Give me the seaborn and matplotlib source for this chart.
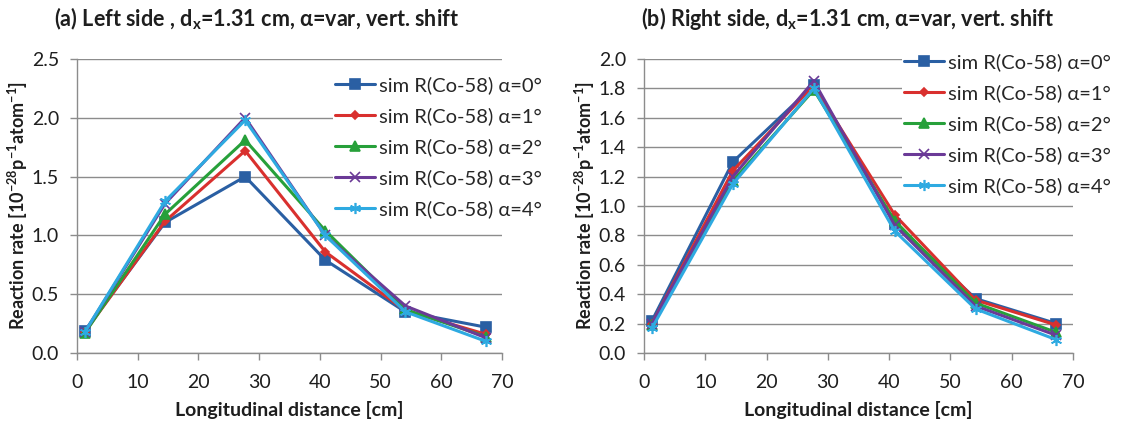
import numpy as np
import pandas as pd
import matplotlib
matplotlib.use("Agg")
import matplotlib.pyplot as plt
import seaborn as sns
from matplotlib.lines import Line2D

# ---- data ----
distance = [1.31, 14.5, 27.7, 40.9, 54.1, 67.3]
angles = ["α=0°", "α=1°", "α=2°", "α=3°", "α=4°"]
series_names = ["sim R(Co-58) " + a for a in angles]

left_a0 = [0.19, 1.11, 1.50, 0.79, 0.35, 0.22]
left_a1 = [0.18, 1.12, 1.72, 0.86, 0.36, 0.16]
left_a2 = [0.17, 1.18, 1.81, 1.04, 0.37, 0.14]
left_a3 = [0.18, 1.27, 2.00, 1.00, 0.40, 0.13]
left_a4 = [0.18, 1.29, 1.98, 1.00, 0.35, 0.10]

right_a0 = [0.22, 1.30, 1.82, 0.88, 0.37, 0.20]
right_a1 = [0.20, 1.24, 1.82, 0.94, 0.36, 0.19]
right_a2 = [0.19, 1.17, 1.79, 0.90, 0.34, 0.14]
right_a3 = [0.20, 1.20, 1.85, 0.87, 0.32, 0.12]
right_a4 = [0.17, 1.15, 1.80, 0.83, 0.30, 0.09]

left_series = [left_a0, left_a1, left_a2, left_a3, left_a4]
right_series = [right_a0, right_a1, right_a2, right_a3, right_a4]

x_ticks = [0, 10, 20, 30, 40, 50, 60, 70]
left_yticks = [0.0, 0.5, 1.0, 1.5, 2.0, 2.5]
right_yticks = [0.0, 0.2, 0.4, 0.6, 0.8, 1.0, 1.2, 1.4, 1.6, 1.8, 2.0]

titles = ["(a) Left side , d$_\\mathregular{x}$=1.31 cm, α=var, vert. shift",
          "(b) Right side, d$_\\mathregular{x}$=1.31 cm, α=var, vert. shift"]

# ---- styles ----
colors = ["#2A5FA3", "#D9302E", "#27A03A", "#6B3A97", "#2EAAE1"]
markers = ["s", "D", "^", "x", (6, 2, 0)]
msizes = [6.5, 4.5, 6.5, 7, 8]

sns.set_theme(style="white")
plt.rcParams['font.family'] = ['Lato', 'DejaVu Sans']
plt.rcParams['mathtext.fontset'] = 'custom'
plt.rcParams['mathtext.rm'] = 'Lato'
plt.rcParams['mathtext.bf'] = 'Lato:bold'

def make_df(series):
    rows = []
    for name, vals in zip(series_names, series):
        for x, y in zip(distance, vals):
            rows.append({"distance": x, "rate": y, "series": name})
    return pd.DataFrame(rows)

fig = plt.figure(figsize=(11.38, 4.28), dpi=100)
W, H = 1138, 428
axL = fig.add_axes([77 / W, 1 - 353 / H, 425 / W, 294 / H])
axR = fig.add_axes([644 / W, 1 - 353 / H, 429 / W, 294 / H])

grid_col = "#8C8C8C"
txt_col = "#1E1E1E"
for ax, series, yticks, ymax, title, tx, legpos in [
        (axL, left_series, left_yticks, 2.5, titles[0], 257, (333, 74)),
        (axR, right_series, right_yticks, 2.0, titles[1], 848, (902, 51))]:
    df = make_df(series)
    for i, name in enumerate(series_names):
        sub = df[df["series"] == name]
        sns.lineplot(data=sub, x="distance", y="rate", ax=ax, color=colors[i],
                     marker=markers[i], markersize=msizes[i], linewidth=2.2,
                     markeredgecolor=colors[i], markeredgewidth=1.2,
                     label=name, legend=False, zorder=3 + i)
    ax.set_xlim(0, 70)
    ax.set_ylim(0, ymax)
    ax.set_xticks(x_ticks)
    ax.set_yticks(yticks)
    ax.set_yticklabels([f"{v:.1f}" for v in yticks])
    ax.yaxis.grid(True, color=grid_col, linewidth=1.0)
    ax.xaxis.grid(False)
    for s in ["top", "right"]:
        ax.spines[s].set_visible(False)
    for s in ["left", "bottom"]:
        ax.spines[s].set_color(grid_col)
        ax.spines[s].set_linewidth(1.0)
    ax.tick_params(axis="x", direction="out", length=5, color=grid_col, width=1.0,
                   labelsize=14, labelcolor=txt_col, pad=10)
    ax.tick_params(axis="y", direction="out", length=5, color=grid_col, width=1.0,
                   labelsize=14, labelcolor=txt_col, pad=8)
    ax.tick_params(axis="x", bottom=True)
    ax.tick_params(axis="y", left=True)
    ax.set_xlabel("Longitudinal distance [cm]", fontsize=14, fontweight="bold",
                  color=txt_col, labelpad=7)
    ax.set_ylabel("Reaction rate [10$^\\mathregular{-28}$p$^\\mathregular{-1}$atom$^\\mathregular{-1}$]",
                  fontsize=13, fontweight="bold", color=txt_col, labelpad=1)
    fig.text(tx / W, 1 - 19 / H, title, ha="center", va="center",
             fontsize=15.5, fontweight="bold", color=txt_col)
    handles = [Line2D([], [], color=colors[i], marker=markers[i], markersize=msizes[i],
                      linewidth=2.2, markeredgecolor=colors[i], markeredgewidth=1.2)
               for i in range(5)]
    leg = ax.legend(handles, series_names, loc="upper left",
                    bbox_to_anchor=(legpos[0] / W, 1 - legpos[1] / H),
                    bbox_transform=fig.transFigure, frameon=True, fontsize=14.5,
                    handlelength=2.0, handletextpad=0.2, labelspacing=0.65,
                    borderpad=0.1, borderaxespad=0)
    leg.get_frame().set_facecolor("white")
    leg.get_frame().set_edgecolor("none")
    leg.get_frame().set_alpha(1.0)
    leg.get_frame().set_boxstyle("square", pad=0)
    leg.set_zorder(10)

fig.savefig("out.png", dpi=100, facecolor="white")
